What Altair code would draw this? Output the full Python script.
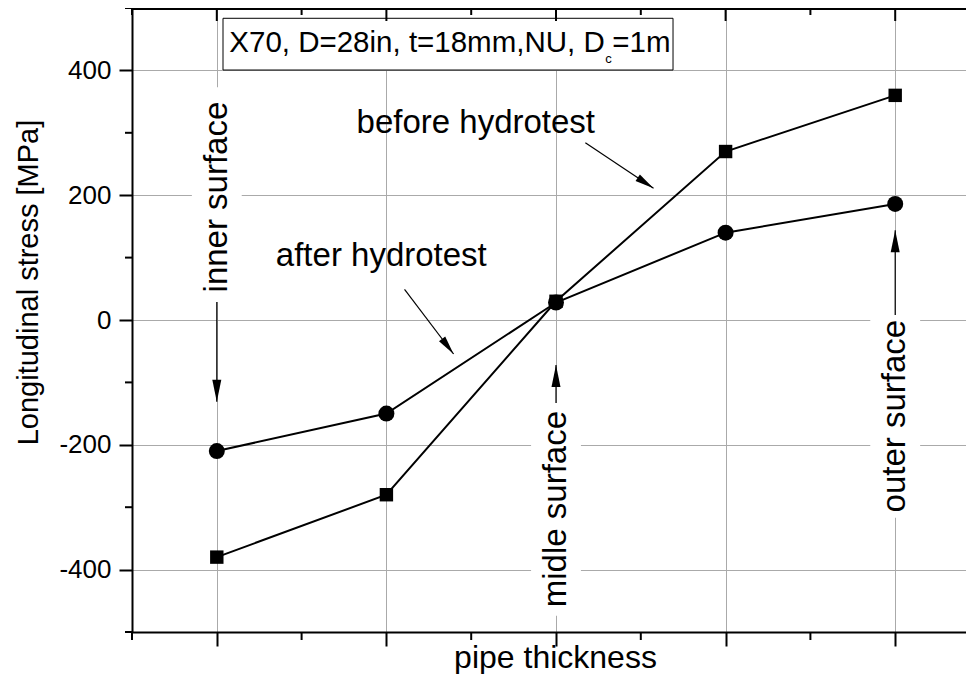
import altair as alt
import pandas as pd

# ---------------- data ----------------
positions = [1, 2, 3, 4, 5]
before_hydrotest = [-380, -280, 30, 270, 360]
after_hydrotest = [-210, -150, 28, 140, 186]

y_major = [-400, -200, 0, 200, 400]
y_minor = [-500, -300, -100, 100, 300, 500]
x_major = [1, 2, 3, 4, 5]
x_minor = [0.5, 1.5, 2.5, 3.5, 4.5, 5.5]

# vertical annotations
vlabels = ["inner surface", "midle surface", "outer surface"]
vlabel_x = [1, 3, 5]
vlabel_y = [197, -303, -154]
vbox_top = [373, -133, 8]
vbox_bottom = [29, -474, -317]
vbox_halfwidth = 0.147

# horizontal annotations
hlabels = ["before hydrotest", "after hydrotest"]
hlabel_x = [2.527, 1.970]
hlabel_y = [300, 87]

# arrows (start -> tip)
arrow_x = [1, 3, 5, 3.173, 2.107]
arrow_y = [29, -133, 8, 284, 49]
arrow_tip_x = [1, 3, 5, 3.575, 2.396]
arrow_tip_y = [-131, -72, 144, 211, -54.5]
arrow_angle = [180, 0, 0, 123.7, 142.9]
arrow_size = [1936, 1936, 1936, 1444, 1444]

# info box
box_x = [1.0366, 3.690]
box_y = [400.6, 483.5]
box_texts = ["X70, D=28in, t=18mm,NU, D", "c", "=1m"]
box_text_x = [1.0737, 3.2907, 3.3320]
box_text_y = [429.5, 411.9, 429.5]
box_text_size = [29.5, 13, 29.5]

# ---------------- layout ----------------
F = "Liberation Sans"
W, H = 834, 624
PX_PER_X = 169.6
xs = alt.Scale(domain=[0.5, 0.5 + W / PX_PER_X], nice=False, zero=False)
ys = alt.Scale(domain=[-500, 500], nice=False, zero=False)

x_axis = alt.Axis(values=x_major, labels=False, tickSize=14, tickWidth=2,
                  tickColor="black", domainColor="black", domainWidth=2,
                  grid=True, gridColor="#aaaaaa", gridWidth=1,
                  title="pipe thickness", titleFont=F, titleFontSize=32,
                  titleFontWeight="normal", titleColor="black",
                  titleX=423, titleY=35, titleAlign="center",
                  titleBaseline="alphabetic")
y_axis = alt.Axis(values=y_major, tickSize=13, tickWidth=2, tickColor="black",
                  domainColor="black", domainWidth=2,
                  grid=True, gridColor="#aaaaaa", gridWidth=1,
                  labelFont=F, labelFontSize=26, labelColor="black",
                  labelPadding=8, labelExpr="'' + datum.value",
                  title="Longitudinal stress [MPa]", titleFont=F,
                  titleFontSize=29, titleFontWeight="normal", titleColor="black",
                  titleAngle=270, titleX=-104, titleY=274,
                  titleAlign="center", titleBaseline="middle")


def X(field):
    return alt.X(field, type="quantitative", scale=xs, axis=x_axis)


def Y(field):
    return alt.Y(field, type="quantitative", scale=ys, axis=y_axis)


df_before = pd.DataFrame({"x": positions, "y": before_hydrotest})
df_after = pd.DataFrame({"x": positions, "y": after_hydrotest})

df_vbox = pd.DataFrame({
    "x": [v - vbox_halfwidth for v in vlabel_x],
    "x2": [v + vbox_halfwidth for v in vlabel_x],
    "y": vbox_bottom, "y2": vbox_top,
})
df_vtext = pd.DataFrame({"x": vlabel_x, "y": vlabel_y, "t": vlabels})
df_htext = pd.DataFrame({"x": hlabel_x, "y": hlabel_y, "t": hlabels})
df_arrow = pd.DataFrame({"x": arrow_x, "y": arrow_y, "x2": arrow_tip_x,
                         "y2": arrow_tip_y, "angle": arrow_angle,
                         "size": arrow_size})
df_box = pd.DataFrame({"x": [box_x[0]], "x2": [box_x[1]],
                       "y": [box_y[0]], "y2": [box_y[1]]})
df_btext = pd.DataFrame({"x": box_text_x, "y": box_text_y, "t": box_texts,
                         "s": box_text_size})
df_ymaj = pd.DataFrame({"y": y_major})
df_ymin = pd.DataFrame({"y": y_minor})
df_xmaj = pd.DataFrame({"x": x_major})
df_xmin = pd.DataFrame({"x": x_minor})

white_boxes = alt.Chart(df_vbox).mark_rect(fill="white", stroke=None).encode(
    x=X("x"), x2="x2", y=Y("y"), y2="y2")

line_before = alt.Chart(df_before).mark_line(color="black", strokeWidth=2).encode(
    x=X("x"), y=Y("y"))
line_after = alt.Chart(df_after).mark_line(color="black", strokeWidth=2).encode(
    x=X("x"), y=Y("y"))
pts_before = alt.Chart(df_before).mark_point(
    shape="square", filled=True, color="black", size=180, opacity=1).encode(
    x=X("x"), y=Y("y"))
pts_after = alt.Chart(df_after).mark_point(
    shape="circle", filled=True, color="black", size=256, opacity=1).encode(
    x=X("x"), y=Y("y"))

arrow_lines = alt.Chart(df_arrow).mark_rule(color="black", strokeWidth=1.2).encode(
    x=X("x"), y=Y("y"), x2="x2", y2="y2")
arrow_heads = alt.Chart(df_arrow).mark_point(
    shape="M0,0L-0.205,1L0.205,1Z", filled=True, color="black", opacity=1,
    strokeWidth=0).encode(
    x=X("x2"), y=Y("y2"),
    angle=alt.Angle("angle:Q", scale=None),
    size=alt.Size("size:Q", scale=None, legend=None))

vtext = alt.Chart(df_vtext).mark_text(
    angle=270, align="center", baseline="middle", font=F, fontSize=33,
    color="black").encode(x=X("x"), y=Y("y"), text="t:N")
htext = alt.Chart(df_htext).mark_text(
    align="center", baseline="alphabetic", font=F, fontSize=33,
    color="black").encode(x=X("x"), y=Y("y"), text="t:N")

info_box = alt.Chart(df_box).mark_rect(fill="white", stroke="black",
                                       strokeWidth=1).encode(
    x=X("x"), x2="x2", y=Y("y"), y2="y2")
info_text = alt.Chart(df_btext).mark_text(
    align="left", baseline="alphabetic", font=F, color="black").encode(
    x=X("x"), y=Y("y"), text="t:N",
    size=alt.Size("s:Q", scale=None, legend=None))

# frame / minor ticks
left_minor = alt.Chart(df_ymin).mark_rule(color="black", strokeWidth=2).encode(
    y=Y("y"), x=alt.value(-7), x2=alt.value(0))
bottom_minor = alt.Chart(df_xmin).mark_rule(color="black", strokeWidth=2).encode(
    x=X("x"), y=alt.value(H), y2=alt.value(H + 8))
top_line = alt.Chart(df_xmaj).mark_rule(color="black", strokeWidth=2).encode(
    x=alt.value(0), x2=alt.value(W), y=alt.value(1))
top_major = alt.Chart(df_xmaj).mark_rule(color="black", strokeWidth=2).encode(
    x=X("x"), y=alt.value(0), y2=alt.value(13))
top_minor = alt.Chart(df_xmin).mark_rule(color="black", strokeWidth=2).encode(
    x=X("x"), y=alt.value(0), y2=alt.value(7))

chart = alt.layer(
    white_boxes, line_before, line_after, pts_before, pts_after,
    arrow_lines, arrow_heads, vtext, htext, info_box, info_text,
    left_minor, bottom_minor, top_line, top_major, top_minor,
).properties(
    width=W, height=H,
    padding={"left": 124, "top": 0, "right": 0, "bottom": 42},
    autosize=alt.AutoSizeParams(type="none"),
).configure_view(stroke=None).configure(background="white")

chart.save("out.html", embed_options={"renderer": "svg", "actions": False})
